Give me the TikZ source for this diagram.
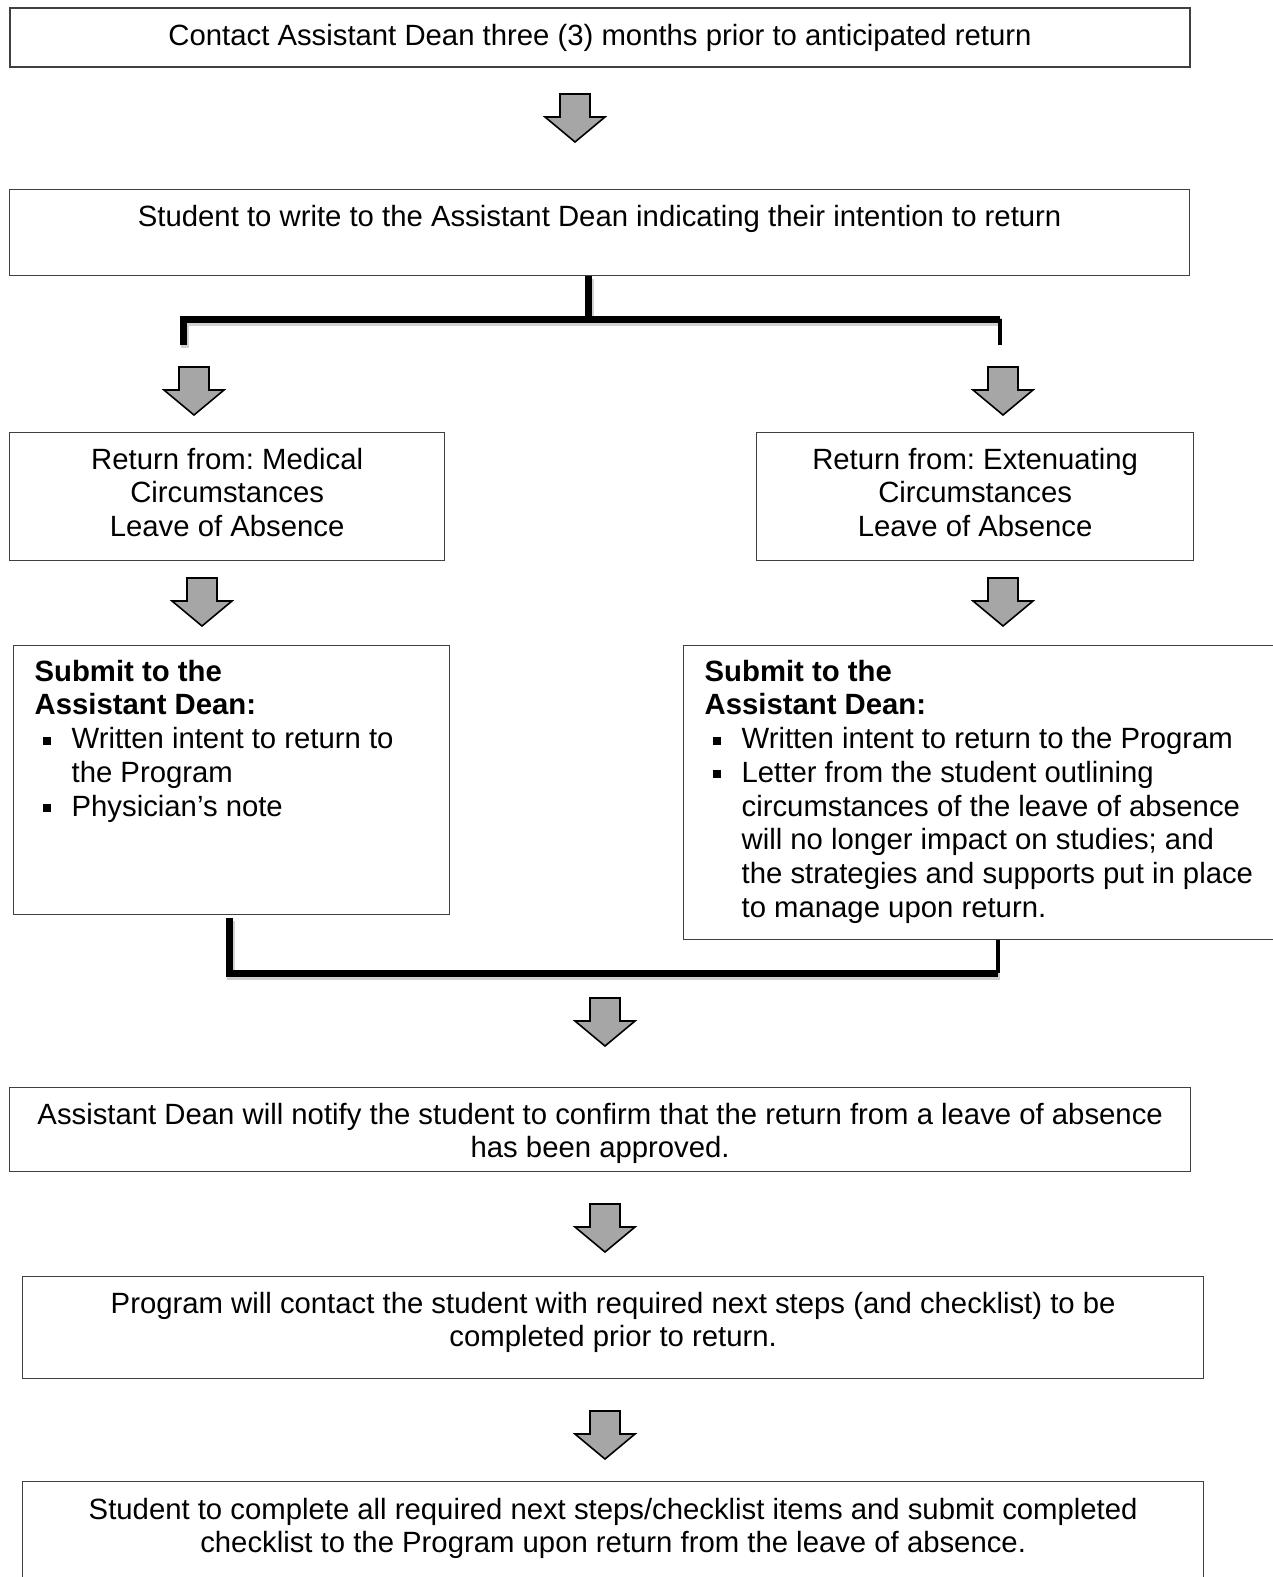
\documentclass[tikz,border=0pt]{standalone}
\usepackage{fontspec}
\setmainfont{Liberation Sans}
\definecolor{boxline}{HTML}{404040}
\definecolor{arrowgray}{HTML}{A6A6A6}
\newcommand\fs{\fontsize{29.3}{33.7}\selectfont\frenchspacing}
\newcommand\bul{\makebox[37pt][l]{\hspace{8pt}\rule[4pt]{8pt}{8pt}}}
\newcommand\ind{\hspace*{37pt}}
\begin{document}
\begin{tikzpicture}[x=1pt,y=-1pt,
  box/.style={draw=boxline, line width=1.3pt, inner sep=0pt, align=center, font=\fs},
  topbox/.style={draw=boxline, line width=1.3pt, inner xsep=0pt, inner ysep=13pt, anchor=north west, font=\fs},
  conn/.style={line width=7pt, line cap=butt, line join=miter,
     preaction={draw=black!18, line width=8pt, transform canvas={shift={(1.5,3)}}}},
  connthin/.style={line width=3.5pt, line cap=butt},
  downarrow/.pic={\draw[fill=arrowgray, line width=1.6pt, line join=miter]
     (-15,0) -- (15,0) -- (15,23) -- (30,23) -- (0,48) -- (-30,23) -- (-15,23) -- cycle;}
]
\useasboundingbox[fill=white] (0,0) rectangle (1273,1577);

% boxes
\node[box, minimum width=1180pt, minimum height=59pt] (b1) at (600,37.5)
  {Contact Assistant Dean three (3) months prior to anticipated return};

\node[topbox] (b2) at (9,189)
  {\parbox[t][60pt][t]{1180pt}{\centering\strut Student to write to the Assistant Dean indicating their intention to return}};

\node[topbox] (b3l) at (9,432)
  {\parbox[t][102pt][t]{435pt}{\centering\strut Return from: Medical\\Circumstances\\Leave of Absence}};
\node[topbox] (b3r) at (756,432)
  {\parbox[t][102pt][t]{437pt}{\centering\strut Return from: Extenuating\\Circumstances\\Leave of Absence}};

\node[topbox, inner xsep=21pt, inner ysep=12pt] (b4l) at (13,645)
  {\parbox[t][245pt][t]{394pt}{\strut\textbf{Submit to the}\\
   \textbf{Assistant Dean:}\\
   \bul Written intent to return to\\
   \ind the Program\\
   \bul Physician’s note}};

\node[topbox, inner xsep=21pt, inner ysep=12pt] (b4r) at (683,645)
  {\parbox[t][270pt][t]{565pt}{\strut\textbf{Submit to the}\\
   \textbf{Assistant Dean:}\\
   \bul Written intent to return to the Program\\
   \bul Letter from the student outlining\\
   \ind circumstances of the leave of absence\\
   \ind will no longer impact on studies; and\\
   \ind the strategies and supports put in place\\
   \ind to manage upon return.}};

\node[topbox] (b5) at (9,1087)
  {\parbox[t][58pt][t]{1181pt}{\centering\strut Assistant Dean will notify the student to confirm that the return from a leave of absence\\has been approved.}};

\node[topbox] (b6) at (22,1276)
  {\parbox[t][76pt][t]{1181pt}{\centering\strut Program will contact the student with required next steps (and checklist) to be\\completed prior to return.}};

\node[topbox, inner ysep=14pt] (b7) at (22,1481)
  {\parbox[t][100pt][t]{1181pt}{\centering\strut Student to complete all required next steps/checklist items and submit completed\\checklist to the Program upon return from the leave of absence.}};

% block arrows
\pic (a1) at (575,94) {downarrow};
\pic (a2l) at (194,367) {downarrow};
\pic (a2r) at (1003,367) {downarrow};
\pic (a3l) at (202,578) {downarrow};
\pic (a3r) at (1003,578) {downarrow};
\pic (a4) at (605,998) {downarrow};
\pic (a5) at (605,1204) {downarrow};
\pic (a6) at (605,1411) {downarrow};

% split connector
\coordinate (jt) at (588,319);
\coordinate (jl) at (183,345);
\coordinate (jr) at (1000,345);
\draw[conn] (b2.south -| jt) -- (jt);
\draw[conn] (jt -| jr) -- (jt -| jl) -- (jl);
\draw[connthin] (jt -| jr) -- (jr);

% merge connector
\coordinate (kl) at (229,973);
\coordinate (kr) at (998,973);
\draw[conn] ([yshift=-3pt]b4l.south -| kl) -- (kl) -- (kr);
\draw[connthin] (b4r.south -| kr) -- (kr);
\end{tikzpicture}
\end{document}
